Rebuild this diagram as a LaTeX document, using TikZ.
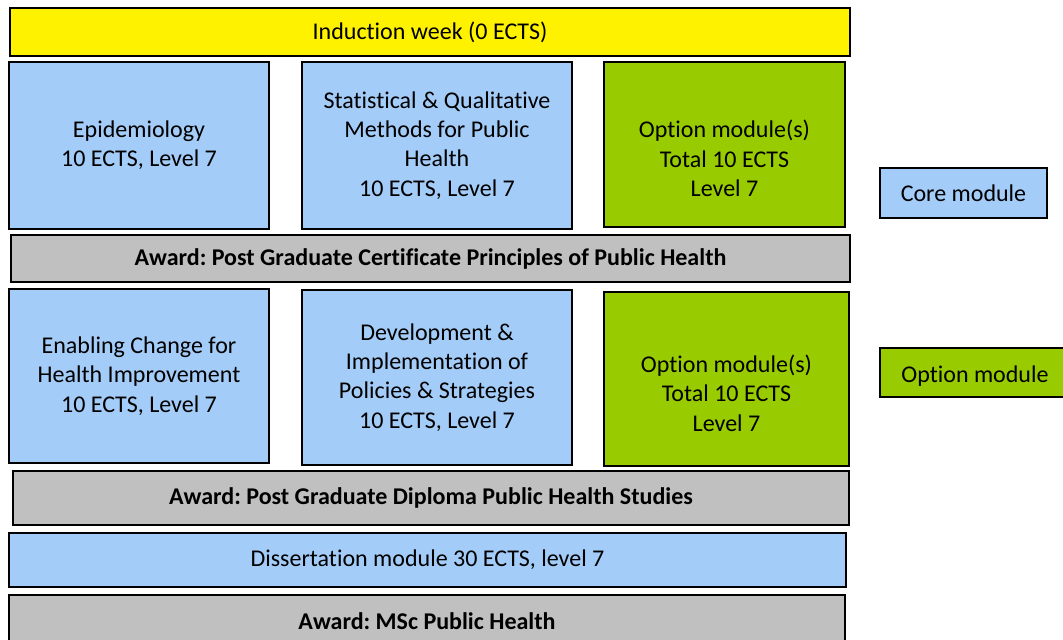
\documentclass[tikz,border=0pt]{standalone}
\usepackage{fontspec}
\setmainfont{Carlito}[Ligatures={NoCommon}]
\usepackage{xcolor}
\usepackage{tikz}
\frenchspacing

\definecolor{coreblue}{RGB}{164,204,248}
\definecolor{optgreen}{RGB}{153,204,0}
\definecolor{awardgray}{RGB}{192,192,192}

\tikzset{
    box/.style={draw, line width=1.3pt, align=center, inner sep=0pt, font=\fontsize{20.5}{25}\selectfont},
    core/.style={box, fill=coreblue},
    option/.style={box, fill=optgreen},
    award/.style={box, fill=awardgray, font=\fontsize{20.5}{25}\selectfont\bfseries}
}
% pushes the text of the option boxes a little down
\newcommand{\lowstrut}{\rule{0pt}{39pt}}

\begin{document}
\begin{tikzpicture}[x=0.03cm, y=-0.03cm]
                \useasboundingbox (0,0) rectangle (1063,639);
                \node[box, fill=yellow, minimum width=25.2cm, minimum height=1.44cm] at (430,32) (induction) {Induction week (0 ECTS)};
                % first block
                \node[core, minimum width=7.8cm, minimum height=5.01cm] at (139,145.5) (epi) {Epidemiology\\10 ECTS, Level 7};
                \node[core, minimum width=8.1cm, minimum height=5.01cm] at (437,145.5) (stat) {Statistical \& Qualitative\\Methods for Public\\Health\\10 ECTS, Level 7};
                \node[option, minimum width=7.23cm, minimum height=4.95cm] at (724.5,144.5) (opta) {\lowstrut Option module(s)\\Total 10 ECTS\\Level 7};
                \node[award, minimum width=25.17cm, minimum height=1.41cm] at (430.5,258.5) (pgcert) {Award: Post Graduate Certificate Principles of Public Health};
                % second block
                \node[core, minimum width=7.8cm, minimum height=5.22cm] at (139,376) (change) {Enabling Change for\\Health Improvement\\10 ECTS, Level 7};
                \node[core, minimum width=8.1cm, minimum height=5.25cm] at (437,377.5) (policy) {Development \&\\Implementation of\\Policies \& Strategies\\10 ECTS, Level 7};
                \node[option, minimum width=7.35cm, minimum height=5.22cm] at (726.5,379) (optb) {\lowstrut Option module(s)\\Total 10 ECTS\\Level 7};
                \node[award, minimum width=25.08cm, minimum height=1.62cm] at (431,498) (pgdip) {Award: Post Graduate Diploma Public Health Studies};
                % dissertation
                \node[core, minimum width=25.11cm, minimum height=1.62cm] at (427.5,560) (diss) {Dissertation module 30 ECTS, level 7};
                \node[award, minimum width=25.08cm, minimum height=1.56cm] at (427,621) (msc) {Award: MSc Public Health};
                % key
                \node[core, minimum width=5.01cm, minimum height=1.5cm] at (963.5,193) (keycore) {Core module};
                \node[option, minimum width=5.7cm, minimum height=1.47cm] at (975,372.5) (keyopt) {\rule{0pt}{20pt}Option module};
            \end{tikzpicture}
\end{document}
